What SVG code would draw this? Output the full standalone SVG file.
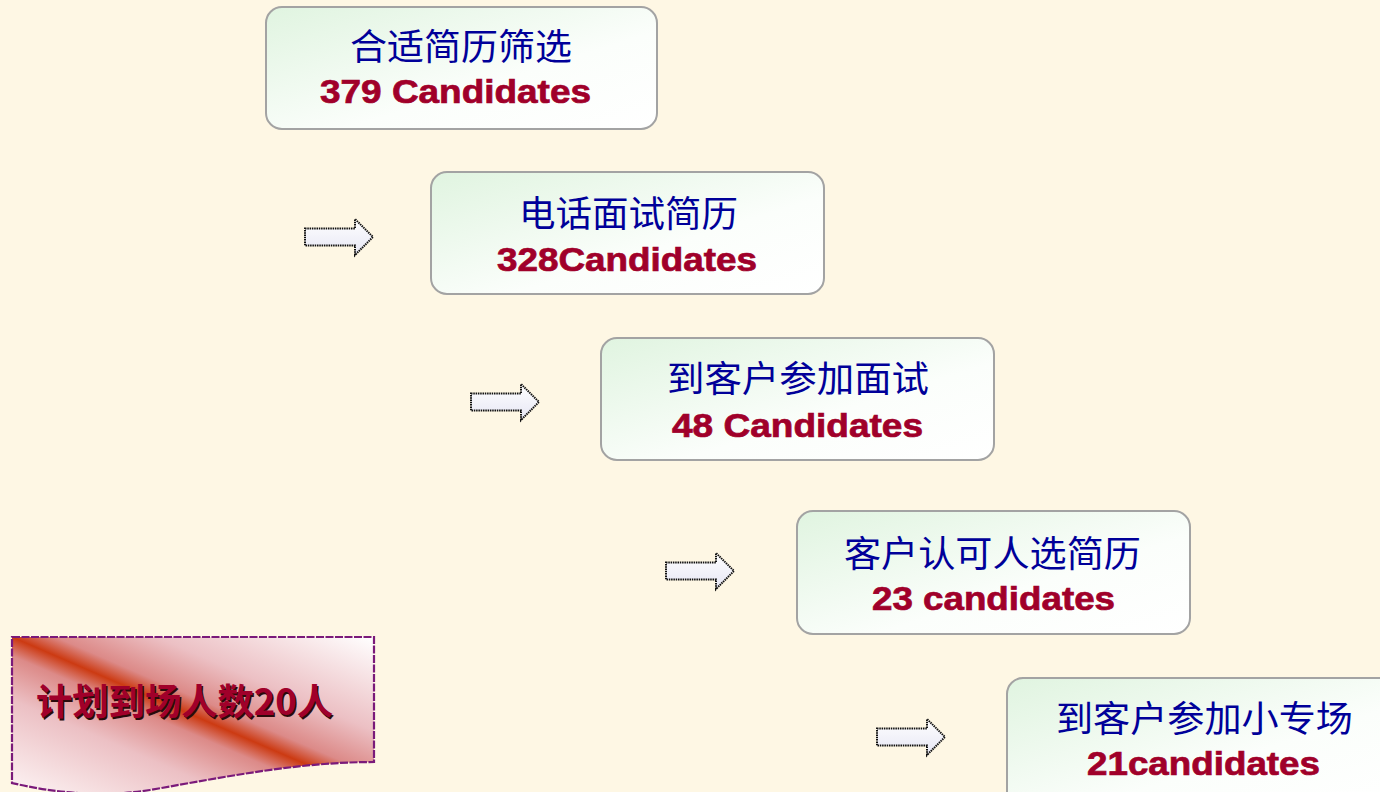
<svg xmlns="http://www.w3.org/2000/svg" width="1380" height="792" viewBox="0 0 1380 792">
  <style>
    .box { fill: url(#boxGrad); stroke: #a3a3a3; stroke-width: 2; }
    .cn { font-family: "Noto Sans CJK SC", "Liberation Sans", sans-serif; font-size: 36px; fill: #000099; }
    .num { font-family: "Liberation Sans", Arial, sans-serif; font-weight: bold; font-size: 33px; fill: #A0002A; stroke: #A0002A; stroke-width: 0.7; }
    .arrow { fill: url(#arrowGrad); stroke: #111111; stroke-width: 2; stroke-dasharray: 1.5 0.8; stroke-linejoin: miter; }
    .plan { font-family: "Noto Sans CJK SC", "Liberation Sans", sans-serif; font-weight: bold; font-size: 36px; }
  </style>
  <defs>
    <linearGradient id="boxGrad" x1="0" y1="0" x2="1" y2="1">
      <stop offset="0" stop-color="#e0f4e0"/>
      <stop offset="0.6" stop-color="#fbfefb"/>
      <stop offset="1" stop-color="#ffffff"/>
    </linearGradient>
    <linearGradient id="arrowGrad" x1="0" y1="0" x2="0" y2="1">
      <stop offset="0" stop-color="#ffffff"/>
      <stop offset="1" stop-color="#e6e6f4"/>
    </linearGradient>
    <linearGradient id="planGrad" x1="0" y1="1" x2="1" y2="0">
      <stop offset="0" stop-color="#fdf5f5"/>
      <stop offset="0.3" stop-color="#ecc0c4"/>
      <stop offset="0.44" stop-color="#dc8a88"/>
      <stop offset="0.5" stop-color="#cc3a12"/>
      <stop offset="0.56" stop-color="#dc8a88"/>
      <stop offset="0.7" stop-color="#ecc0c4"/>
      <stop offset="1" stop-color="#ffffff"/>
    </linearGradient>
    <path id="arr" d="M0,-8.5 H50 V-18 L68,0 L50,18 V8.5 H0 Z"/>
  </defs>

  <rect x="0" y="0" width="1380" height="792" fill="#fef7e4"/>

  <g id="node1">
    <rect class="box" x="266" y="7" width="391" height="122" rx="16"/>
    <text class="cn" x="350" y="60" textLength="222" lengthAdjust="spacingAndGlyphs">合适简历筛选</text>
    <text class="num" x="320" y="103" textLength="271" lengthAdjust="spacingAndGlyphs">379 Candidates</text>
  </g>

  <g id="node2">
    <rect class="box" x="431" y="172" width="393" height="122" rx="16"/>
    <text class="cn" x="519" y="227" textLength="219" lengthAdjust="spacingAndGlyphs">电话面试简历</text>
    <text class="num" x="497" y="271" textLength="260" lengthAdjust="spacingAndGlyphs">328Candidates</text>
  </g>

  <g id="node3">
    <rect class="box" x="601" y="338" width="393" height="122" rx="16"/>
    <text class="cn" x="667" y="392" textLength="262" lengthAdjust="spacingAndGlyphs">到客户参加面试</text>
    <text class="num" x="672" y="437" textLength="251" lengthAdjust="spacingAndGlyphs">48 Candidates</text>
  </g>

  <g id="node4">
    <rect class="box" x="797" y="511" width="393" height="123" rx="16"/>
    <text class="cn" x="844" y="567" textLength="297" lengthAdjust="spacingAndGlyphs">客户认可人选简历</text>
    <text class="num" x="872" y="610" textLength="243" lengthAdjust="spacingAndGlyphs">23 candidates</text>
  </g>

  <g id="node5">
    <rect class="box" x="1007" y="678" width="393" height="130" rx="16"/>
    <text class="cn" x="1056" y="732" textLength="297" lengthAdjust="spacingAndGlyphs">到客户参加小专场</text>
    <text class="num" x="1087" y="775" textLength="233" lengthAdjust="spacingAndGlyphs">21candidates</text>
  </g>

  <g id="connectors">
    <use href="#arr" class="arrow" transform="translate(305,237)"/>
    <use href="#arr" class="arrow" transform="translate(471,402)"/>
    <use href="#arr" class="arrow" transform="translate(666,571)"/>
    <use href="#arr" class="arrow" transform="translate(877,737)"/>
  </g>

  <g id="plan">
    <path d="M12,637 H374 V762 C300,762 230,776 150,790 C100,798 50,792 12,783 Z" fill="url(#planGrad)" stroke="#7a1a7a" stroke-width="2.2" stroke-dasharray="8 1.5"/>
    <text class="plan" x="37.5" y="716.5" fill="#2a0a0a" textLength="297" lengthAdjust="spacingAndGlyphs">计划到场人数20人</text>
    <text class="plan" x="36" y="715" fill="#A0002A" textLength="297" lengthAdjust="spacingAndGlyphs">计划到场人数20人</text>
  </g>
</svg>
